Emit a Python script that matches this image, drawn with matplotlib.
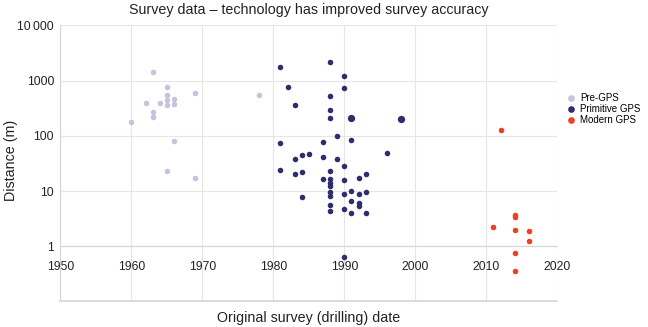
import matplotlib
matplotlib.use("Agg")
import matplotlib.pyplot as plt
from matplotlib.lines import Line2D

plt.rcParams["font.family"] = ["Liberation Sans", "DejaVu Sans"]

# ==========================
# Data
# ==========================
pre_years = [1960, 1962, 1963, 1963, 1963, 1964, 1965, 1965, 1965, 1965, 1965,
             1966, 1966, 1966, 1969, 1969, 1978]
pre_values = [175, 385, 1450, 275, 220, 385, 780, 550, 450, 360, 23,
              455, 370, 82, 600, 17.5, 550]

prim_years = [1981, 1981, 1981, 1982, 1983, 1983, 1983, 1984, 1984, 1984, 1985,
              1987, 1987, 1987,
              1988, 1988, 1988, 1988, 1988, 1988, 1988, 1988, 1988, 1988, 1988, 1988,
              1989, 1989,
              1990, 1990, 1990, 1990, 1990, 1990, 1990,
              1991, 1991, 1991, 1991,
              1992, 1992, 1992, 1992,
              1993, 1993, 1993, 1996]
prim_values = [1780, 75, 23.7, 780, 360, 38.5, 20.6, 44, 22.4, 7.9, 46,
               76, 42, 16.6,
               2210, 531, 288, 209, 22.9, 16.2, 14.0, 12.5, 9.5, 8.0, 5.7, 4.4,
               99, 38.5,
               1220, 731, 28.5, 15.9, 8.95, 4.67, 0.63,
               84, 10.2, 6.7, 4.07,
               17, 8.7, 6.1, 5.4,
               20.6, 9.8, 4.07, 49.5]
prim_big_years = [1991, 1998]
prim_big_values = [210, 198]

modern_years = [2011, 2012, 2014, 2014, 2014, 2014, 2014, 2016, 2016]
modern_values = [2.25, 127, 3.75, 3.45, 1.93, 0.76, 0.36, 1.88, 1.23]

series_labels = ["Pre-GPS", "Primitive GPS", "Modern GPS"]
c_pre = "#c6c3dc"
c_prim = "#2e2e6e"
c_modern = "#ec4124"

y_ticks = [1, 10, 100, 1000, 10000]
y_tick_labels = ["1", "10", "100", "1000", "10\u2009000"]
x_ticks = [1950, 1960, 1970, 1980, 1990, 2000, 2010, 2020]

# ==========================
# Figure
# ==========================
fig = plt.figure(figsize=(6.48, 3.27), dpi=100)
ax = fig.add_axes([0.0931, 0.078, 0.767, 0.8446])

grid_c = "#e6e6e6"
ax.set_yscale("log")
ax.set_xlim(1950, 2020)
ax.set_ylim(0.1, 10000)

ax.scatter(pre_years, pre_values, s=16, color=c_pre, linewidths=0, zorder=3)
ax.scatter(prim_years, prim_values, s=16, color=c_prim, linewidths=0, zorder=3)
ax.scatter(prim_big_years, prim_big_values, s=28, color=c_prim, linewidths=0, zorder=3)
ax.scatter(modern_years, modern_values, s=16, color=c_modern, linewidths=0, zorder=3)

ax.set_yticks(y_ticks)
ax.set_yticklabels(y_tick_labels)
ax.minorticks_off()
ax.set_xticks(x_ticks)
ax.grid(True, color=grid_c, linewidth=0.8, zorder=0)
ax.set_axisbelow(True)

for s in ["top", "right"]:
    ax.spines[s].set_visible(False)
ax.spines["left"].set_color("#d6d6d6")
ax.spines["bottom"].set_color("#d6d6d6")
ax.spines["bottom"].set_position(("data", 1))
ax.axhline(0.1, color="#d6d6d6", linewidth=1.2, clip_on=False, zorder=1)

ax.tick_params(axis="both", length=0, labelsize=8.7, colors="#222222")
ax.tick_params(axis="y", pad=4.5)
ax.tick_params(axis="x", pad=10.5)

fig.text(0.4766, 1 - 10 / 327, "Survey data \u2013 technology has improved survey accuracy",
         ha="center", va="center", fontsize=10.3, color="#222222")
fig.text(0.4766, 1 - 318 / 327, "Original survey (drilling) date",
         ha="center", va="center", fontsize=10.3, color="#222222")
fig.text(11 / 648, 1 - 160 / 327, "Distance (m)", rotation=90,
         ha="center", va="center", fontsize=10.3, color="#222222")

handles = [Line2D([], [], marker="o", linestyle="none", markersize=4.8,
                  markerfacecolor=c, markeredgewidth=0)
           for c in [c_pre, c_prim, c_modern]]
ax.legend(handles, series_labels, loc="upper left",
          bbox_to_anchor=(566 / 648, 1 - 93 / 327), bbox_transform=fig.transFigure,
          frameon=False, fontsize=7.0, handlelength=1.0, handletextpad=0.45,
          labelspacing=0.12, borderpad=0, borderaxespad=0)

fig.savefig("out.png", dpi=100)
